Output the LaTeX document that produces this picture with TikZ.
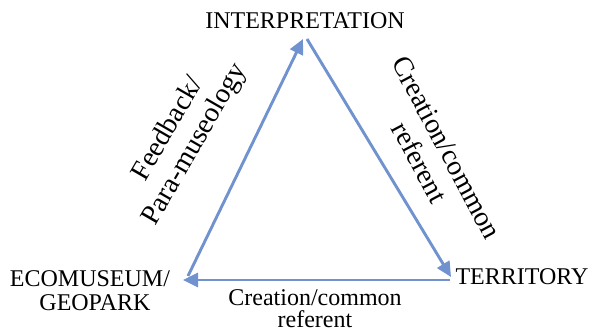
\documentclass[tikz,border=0pt]{standalone}
\usepackage{fontspec}
\setmainfont{Liberation Serif}
\usetikzlibrary{arrows.meta}
\definecolor{edgeblue}{RGB}{112,146,206}
\tikzset{
  vlabel/.style={inner sep=0pt, anchor=base, font=\fontsize{24}{24}\selectfont},
  elabel/.style={inner sep=0pt, align=center, font=\fontsize{24}{22}\selectfont},
  rlabel/.style={inner sep=0pt, align=center, font=\fontsize{28}{31}\selectfont},
  edge/.style={draw=edgeblue, line width=2.9pt, -{Triangle[length=15pt,width=14pt]}}
}
\begin{document}
\begin{tikzpicture}[x=1pt,y=-1pt]
\useasboundingbox (0,0) rectangle (592,331);
\node[vlabel] (interp) at (305,29) {INTERPRETATION};
\node[vlabel] (terr) at (522,285) {TERRITORY};
\node[vlabel] (eco1) at (90,287) {ECOMUSEUM/};
\node[vlabel] (eco2) at (95,311) {GEOPARK};
\node[elabel] (bot) at (315,309) {Creation/common\\referent};
\node[rlabel, rotate=60] (left) at (182,137) {Feedback/\\Para-museology};
\node[rlabel, rotate=-62] (right) at (433,155) {Creation/common\\referent};
\coordinate (topL) at (303,39);
\coordinate (topR) at (307,39);
\coordinate (blS) at (188,276);
\coordinate (brE) at (451,277);
\coordinate (brS) at (450,280);
\coordinate (blE) at (183,280);
\draw[edge] (blS) -- (topL);
\draw[edge] (topR) -- (brE);
\draw[edge] (brS) -- (blE);
\end{tikzpicture}
\end{document}
